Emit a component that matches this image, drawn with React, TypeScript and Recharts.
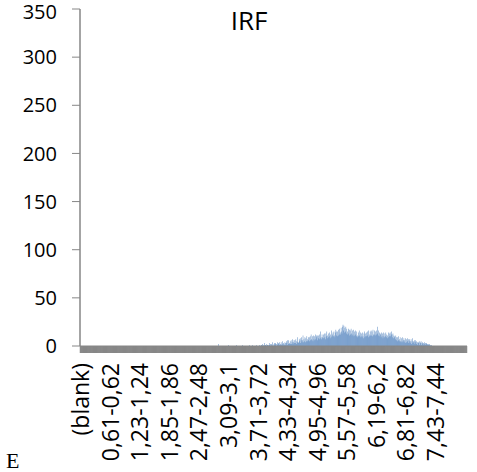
import { BarChart, Bar, XAxis, YAxis } from "recharts";

// 0,01-wide bins, first column is "(blank)"
const BIN_COUNT = 812;
const FIRST_COUNTED_BIN = 281; // "2,80-2,81"

// counts, bins 281 .. 740 (everything else is 0)
const counts = [
  0, 0, 0, 0, 0, 0, 0, 0, 0, 2,
  0, 0, 0, 0, 0, 0, 0, 0, 0, 0,
  0, 0, 0, 0, 0, 0, 0, 0, 0, 0,
  0, 1, 0, 0, 0, 0, 0, 0, 0, 0,
  0, 0, 0, 0, 0, 0, 0, 1, 0, 0,
  0, 0, 0, 0, 0, 0, 0, 0, 0, 0,
  1, 0, 0, 0, 0, 0, 0, 0, 0, 0,
  0, 0, 0, 0, 1, 0, 0, 0, 0, 0,
  0, 1, 0, 0, 0, 0, 0, 0, 0, 1,
  0, 0, 0, 0, 0, 0, 1, 0, 0, 1,
  1, 0, 2, 1, 0, 1, 3, 0, 1, 1,
  0, 2, 1, 1, 0, 1, 3, 1, 0, 2,
  1, 2, 0, 4, 1, 0, 2, 3, 1, 3,
  2, 0, 2, 4, 1, 2, 3, 1, 4, 1,
  2, 4, 1, 2, 5, 1, 3, 2, 1, 4,
  3, 1, 5, 3, 1, 6, 2, 6, 2, 3,
  5, 2, 6, 2, 4, 7, 2, 4, 6, 3,
  6, 3, 7, 2, 5, 4, 9, 4, 3, 7,
  5, 8, 3, 6, 9, 4, 6, 11, 4, 7,
  5, 9, 4, 8, 5, 10, 7, 5, 9, 6,
  9, 5, 10, 6, 12, 7, 6, 10, 5, 11,
  7, 10, 6, 12, 7, 11, 9, 6, 11, 8,
  11, 7, 12, 8, 15, 9, 7, 12, 9, 8,
  12, 8, 13, 9, 7, 13, 10, 15, 8, 11,
  9, 13, 10, 14, 8, 12, 9, 16, 10, 12,
  14, 10, 15, 11, 9, 14, 17, 11, 15, 10,
  15, 11, 17, 12, 18, 14, 12, 19, 15, 13,
  20, 22, 16, 21, 14, 19, 15, 20, 13, 18,
  15, 12, 18, 13, 17, 11, 16, 12, 18, 13,
  11, 16, 12, 17, 10, 15, 11, 16, 12, 10,
  15, 11, 9, 14, 10, 16, 11, 9, 14, 10,
  13, 9, 14, 10, 8, 13, 15, 9, 13, 10,
  14, 10, 15, 11, 9, 16, 12, 10, 15, 11,
  16, 11, 15, 10, 17, 12, 11, 16, 12, 15,
  11, 16, 12, 20, 13, 11, 16, 10, 14, 13,
  12, 9, 14, 10, 13, 8, 14, 10, 9, 13,
  10, 14, 9, 12, 8, 11, 14, 9, 13, 10,
  14, 10, 12, 15, 12, 9, 13, 8, 11, 9,
  10, 7, 11, 6, 9, 5, 9, 6, 10, 5,
  7, 9, 5, 4, 8, 5, 9, 4, 6, 8,
  6, 4, 8, 3, 7, 4, 8, 5, 3, 7,
  5, 7, 3, 5, 7, 2, 5, 8, 3, 5,
  4, 6, 2, 6, 4, 2, 5, 4, 1, 4,
  3, 5, 1, 4, 3, 5, 1, 3, 4, 2,
  3, 1, 4, 2, 3, 1, 3, 2, 2, 1,
  2, 1, 1, 2, 0, 1, 0, 1, 0, 0,
];

const tickLabels = [
  "(blank)",
  "0,61-0,62",
  "1,23-1,24",
  "1,85-1,86",
  "2,47-2,48",
  "3,09-3,1",
  "3,71-3,72",
  "4,33-4,34",
  "4,95-4,96",
  "5,57-5,58",
  "6,19-6,2",
  "6,81-6,82",
  "7,43-7,44",
];

const yTicks = [0, 50, 100, 150, 200, 250, 300, 350];

const fmt = (v: number) => String(Math.round(v * 100) / 100).replace(".", ",");

const categories = ["(blank)"];
for (let i = 1; i <= BIN_COUNT; i++) {
  categories.push(`${fmt((i - 1) / 100)}-${fmt(i / 100)}`);
}

const data = categories.map((bin, i) => {
  const k = i - FIRST_COUNTED_BIN;
  return { bin, count: k >= 0 && k < counts.length ? counts[k] : 0 };
});

const FONT = "'Open Sans', 'Liberation Sans', sans-serif";

const XTick = (props: any) => {
  const { x, y, payload } = props;
  if (!tickLabels.includes(payload.value)) return <g />;
  return (
    <text
      x={x}
      y={y}
      transform={`rotate(-90 ${x} ${y})`}
      textAnchor="end"
      dy="0.4em"
      fontSize={23}
      fontFamily={FONT}
      fill="#000"
    >
      {payload.value}
    </text>
  );
};

export default function App() {
  return (
    <div
      style={{
        position: "absolute",
        left: 0,
        top: 0,
        width: 477,
        height: 472,
        background: "#fff",
      }}
    >
      <BarChart
        width={477}
        height={472}
        data={data}
        margin={{ top: 9, right: 10, left: 0, bottom: 16 }}
        barCategoryGap={0}
        barGap={0}
      >
        <XAxis
          dataKey="bin"
          interval={0}
          height={110}
          tickSize={7}
          tickMargin={10}
          axisLine={{ stroke: "#868686" }}
          tickLine={{ stroke: "#868686" }}
          tick={<XTick />}
        />
        <YAxis
          width={80}
          domain={[0, 350]}
          ticks={yTicks}
          tickSize={8}
          tickMargin={15}
          axisLine={{ stroke: "#868686", strokeWidth: 1.5 }}
          tickLine={{ stroke: "#868686" }}
          tick={{ fontSize: 20, fontFamily: FONT, fill: "#000" }}
        />
        <Bar dataKey="count" fill="#4F81BD" isAnimationActive={false} />
      </BarChart>
      <svg
        width={477}
        height={472}
        style={{ position: "absolute", left: 0, top: 0, pointerEvents: "none" }}
      >
        <text x={249} y={30} textAnchor="middle" fontSize={26} fontFamily={FONT} fill="#000">
          IRF
        </text>
        <text x={6} y={468} fontSize={22} fontFamily="'Liberation Serif', 'DejaVu Serif', serif" fill="#000">
          E
        </text>
      </svg>
    </div>
  );
}
